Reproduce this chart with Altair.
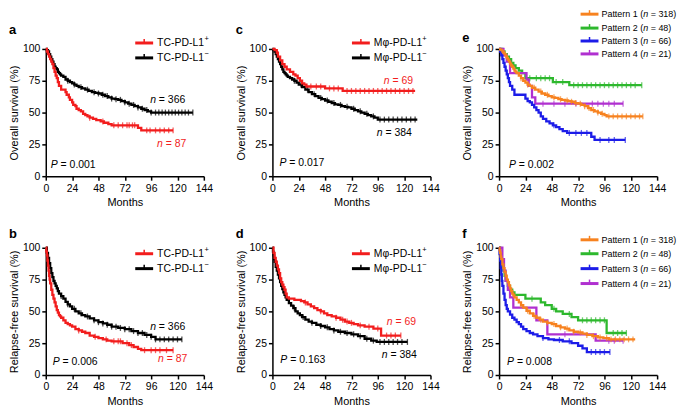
import altair as alt
import pandas as pd
import numpy as np

# ---------------- data (months, survival %) ----------------
# Panel a: overall survival, TC-PD-L1
a_pos_t = [0, 1, 2, 3, 4, 5, 6, 7, 8, 9, 10, 11, 12, 14, 18, 19, 21, 22, 24, 25, 27, 28, 30, 32, 34, 36, 38, 40, 43, 46, 50, 53, 57, 60, 84, 87]
a_pos_s = [100, 98, 96, 94, 92, 90, 88, 85, 82, 79, 77, 74, 71, 68, 66, 64, 62, 60, 58, 56, 55, 53, 52, 51, 49, 48, 47, 46, 45, 44, 43, 42, 41, 40, 38, 36]
a_pos_end = 116
a_pos_c = [40, 52, 62, 66, 70, 74, 76, 79, 81, 92, 95, 100, 104, 108, 112, 116]
a_neg_t = [0, 1, 2, 3, 4, 5, 6, 7, 8, 9, 10, 11, 12, 13, 14, 16, 18, 20, 22, 24, 26, 28, 30, 33, 36, 39, 42, 45, 48, 51, 54, 57, 60, 63, 66, 69, 72, 75, 78, 81, 84, 87, 90, 93, 96]
a_neg_s = [100, 99, 98, 96, 94, 92, 90, 88, 86, 85, 84, 82, 81, 80, 79, 78, 76, 75, 74, 73, 72, 71, 70, 69, 68, 67, 66, 65.5, 65, 64, 63, 62, 61, 60.5, 60, 59, 58, 57, 56, 55, 54, 53, 52, 51, 50]
a_neg_end = 134
a_neg_c = [20, 26, 32, 38, 44, 48, 52, 56, 60, 64, 68, 72, 76, 80, 84, 88, 92, 96, 100, 103, 106, 109, 112, 115, 118, 121, 124, 127, 130, 134]

# Panel b: relapse-free survival, TC-PD-L1
b_pos_t = [0, 0.5, 1, 1.5, 2, 2.5, 3, 3.5, 4, 5, 6, 7, 8, 9, 10, 11, 12, 13, 14, 16, 18, 20, 22, 24, 27, 30, 33, 36, 40, 44, 48, 52, 56, 60, 70, 76, 80, 84, 87]
b_pos_s = [100, 97, 94, 90, 86, 82, 78, 75, 72, 67, 63, 60, 57, 54, 51, 49, 47, 46, 45, 43, 41, 40, 39, 38, 36, 35, 34, 33, 31, 30, 29, 28, 27, 26.5, 25, 23.5, 22, 20.5, 19.5]
b_pos_end = 116
b_pos_c = [30, 45, 55, 62, 66, 68, 74, 78, 90, 96, 100, 104, 110, 116]
b_neg_t = [0, 1, 2, 3, 4, 5, 6, 7, 8, 9, 10, 11, 12, 14, 16, 18, 20, 22, 24, 27, 30, 33, 36, 40, 44, 48, 52, 56, 60, 66, 72, 78, 84, 90, 96, 100]
b_neg_s = [100, 96, 92, 88, 84, 80, 77, 74, 72, 70, 68, 66, 64, 62, 60, 57.5, 55.5, 54, 52, 50, 48.5, 47, 46, 44.5, 43, 41.5, 40.5, 39.5, 38, 37, 36, 34.5, 33, 31.5, 30, 28]
b_neg_end = 124
b_neg_c = [14, 20, 26, 32, 38, 44, 48, 52, 56, 60, 64, 68, 72, 76, 80, 84, 88, 92, 96, 100, 104, 108, 112, 116, 120, 124]

# Panel c: overall survival, Mphi-PD-L1
c_pos_t = [0, 2, 4, 5, 7, 9, 11, 13, 16, 19, 21, 23, 25, 27, 29, 31, 48, 64]
c_pos_s = [100, 99, 97, 94, 91, 88, 86, 84, 82, 80, 79, 77, 75, 73, 72, 70.5, 69, 67]
c_pos_end = 130
c_pos_c = [35, 40, 44, 52, 56, 60, 68, 72, 76, 80, 84, 88, 92, 96, 100, 104, 108, 112, 116, 120, 124, 128]
c_neg_t = [0, 1, 2, 3, 4, 5, 6, 7, 8, 9, 10, 11, 12, 13, 14, 16, 18, 20, 22, 24, 27, 30, 33, 36, 39, 42, 45, 48, 51, 54, 57, 60, 63, 66, 69, 72, 75, 78, 81, 84, 87, 90, 93, 96]
c_neg_s = [100, 99, 98, 96, 94, 92, 90, 88, 86, 84, 82, 81, 80, 79, 78, 77, 76, 75, 73.5, 72, 70, 68, 66, 64.5, 63, 61.5, 60.5, 59.5, 58.5, 57.5, 56.5, 56, 55, 54.5, 54, 53, 52, 51, 50, 49, 48, 47, 46, 44.5]
c_neg_end = 132
c_neg_c = [20, 26, 32, 38, 44, 50, 56, 62, 68, 74, 80, 86, 92, 98, 102, 106, 110, 114, 118, 122, 126, 130]

# Panel d: relapse-free survival, Mphi-PD-L1
d_pos_t = [0, 1, 2, 3, 4, 5, 6, 7, 8, 9, 10, 11, 12, 13, 15, 20, 26, 29, 32, 35, 38, 41, 44, 47, 50, 54, 58, 62, 66, 70, 74, 78, 84, 92, 99]
d_pos_s = [100, 96, 92, 89, 86, 83, 80, 76, 73, 71, 69, 67, 64, 61, 60, 59, 58, 57, 55.5, 54, 52.5, 51, 50, 48.5, 47, 46, 45, 43.5, 42, 41, 40, 39, 38, 36.5, 31]
d_pos_end = 117
d_pos_c = [30, 44, 58, 64, 68, 72, 80, 88, 96, 104, 108, 112, 117]
d_neg_t = [0, 0.5, 1, 1.5, 2, 3, 4, 5, 6, 7, 8, 9, 10, 11, 12, 13, 15, 17, 19, 21, 23, 25, 27, 30, 33, 36, 40, 44, 48, 52, 56, 60, 66, 72, 78, 84, 90, 95]
d_neg_s = [100, 97, 94, 91, 89, 85, 82, 79, 76, 73, 70, 67.5, 65, 63, 61, 59, 56.5, 54.5, 52.5, 50, 48.5, 47, 45.5, 43.5, 42, 41, 39.5, 38.5, 37.5, 36, 35, 34, 33, 32, 30.5, 28.5, 27, 26]
d_neg_end = 123
d_neg_c = [20, 28, 36, 44, 50, 56, 62, 68, 74, 80, 86, 92, 98, 102, 106, 110, 114, 118, 123]

# Panel e: overall survival by pattern
e_p1_t = [0, 1, 2, 3, 4, 5, 6, 7, 8, 9, 10, 11, 12, 13, 14, 15, 16, 18, 20, 22, 24, 26, 28, 30, 33, 36, 39, 42, 45, 48, 51, 54, 57, 60, 63, 66, 69, 72, 75, 78, 81, 84, 87, 90, 93, 96, 98]
e_p1_s = [100, 99.5, 99, 98, 97, 96, 94.5, 93, 91.5, 90, 88.5, 87, 86, 84.5, 83, 82, 81, 79, 77, 75, 73.5, 72, 71, 69.5, 68, 66.5, 65, 64, 63, 62, 61.5, 60.5, 60, 59.5, 59, 58.5, 57.5, 57, 56, 55, 53.5, 52, 51, 50, 49, 48, 47]
e_p1_end = 131
e_p1_c = [20, 26, 32, 38, 44, 50, 56, 62, 66, 70, 74, 78, 82, 86, 90, 94, 100, 104, 108, 112, 116, 120, 124, 128, 131]
e_p2_t = [0, 3, 5, 7, 9, 11, 13, 15, 18, 21, 24, 49, 64]
e_p2_s = [100, 98, 96, 94, 92, 89, 87, 85, 83, 81, 77, 74, 71.5]
e_p2_end = 130
e_p2_c = [28, 34, 38, 42, 46, 52, 58, 68, 72, 76, 80, 84, 88, 92, 96, 100, 104, 108, 112, 116, 120, 124, 130]
e_p3_t = [0, 1, 2, 3, 4, 5, 6, 7, 8, 9, 10, 12, 14, 24, 26, 28, 30, 32, 34, 36, 38, 40, 43, 46, 49, 52, 55, 58, 62, 84, 87]
e_p3_s = [100, 98, 95, 92, 89, 86, 83, 80, 77, 74, 71, 68, 64, 61, 59, 58, 56, 54, 52, 50, 47, 45, 43, 41.5, 40, 38.5, 37, 35.5, 34, 31, 28.5]
e_p3_end = 115
e_p3_c = [50, 64, 70, 75, 80, 92, 100, 105, 115]
e_p4_t = [0, 4, 7, 10, 25, 27, 30, 33]
e_p4_s = [100, 95, 90, 81, 76, 71, 62, 57]
e_p4_end = 113
e_p4_c = [40, 50, 60, 70, 85, 90, 95, 100, 105, 113]

# Panel f: relapse-free survival by pattern
f_p1_t = [0, 0.5, 1, 1.5, 2, 3, 4, 5, 6, 7, 8, 9, 10, 11, 12, 13, 14, 16, 18, 20, 22, 25, 28, 31, 34, 37, 40, 44, 48, 52, 56, 60, 64, 68, 72, 76, 80, 85, 90, 95, 100]
f_p1_s = [100, 98, 96, 93, 91, 87, 84, 81, 78, 75, 73, 70.5, 68, 66, 64, 62.5, 61, 59, 57, 55, 53, 50.5, 48.5, 46.5, 45, 43.5, 42, 41, 40, 38.5, 37.5, 36.5, 35, 34, 33.5, 32.5, 31.5, 30.5, 29.5, 29, 28]
f_p1_end = 124
f_p1_c = [20, 26, 32, 38, 44, 50, 56, 62, 68, 74, 80, 86, 92, 98, 102, 106, 110, 114, 118, 122]
f_p2_t = [0, 1, 2, 3, 4, 5, 6, 8, 10, 12, 14, 24, 38, 42, 48, 52, 58, 66, 72, 98]
f_p2_s = [100, 94, 90, 86, 82, 78, 74, 70, 67, 65, 63, 60, 57, 55, 52, 50, 48, 45.5, 43, 33]
f_p2_end = 116
f_p2_c = [30, 50, 64, 76, 80, 84, 88, 92, 96, 104, 108, 112, 116]
f_p3_t = [0, 0.5, 1, 1.5, 2, 2.5, 3, 4, 5, 6, 7, 8, 10, 12, 14, 16, 18, 20, 22, 25, 28, 31, 35, 40, 45, 50, 58, 66, 72, 76, 80]
f_p3_s = [100, 95, 90, 84, 79, 74, 70, 64, 59, 55, 52, 50, 47.5, 45, 43.5, 41.5, 40, 38, 36, 34.5, 33, 32, 30.5, 29, 28, 27.5, 26.5, 25, 23, 21, 18]
f_p3_end = 101
f_p3_c = [40, 55, 64, 84, 88, 92, 96, 101]
f_p4_t = [0, 3, 4.5, 6, 8, 10, 13, 34, 44, 88]
f_p4_s = [100, 91, 82, 74, 67, 61, 53, 43, 32, 27]
f_p4_end = 113
f_p4_c = [60, 100, 105, 113]

x_ticks = [0, 24, 48, 72, 96, 120, 144]
y_ticks = [0, 25, 50, 75, 100]

# ---------------- styling ----------------
FONT = "Liberation Sans, Arial, Helvetica, sans-serif"
RED = "#f21d1d"
BLACK = "#000000"
ORANGE = "#f7821f"
GREEN = "#2db82d"
BLUE = "#1c1ce8"
PURPLE = "#b030d0"
W, H = 159, 128
FS = 10.5

AW = {' ': .278, '(': .333, ')': .333, '=': .584, '.': .278, 'P': .667, 'a': .556,
      't': .278, 'e': .556, 'r': .333, 'n': .556, 'T': .611, 'C': .722, '-': .333,
      'D': .722, 'L': .556, 'M': .833, '\u03c6': .60}


def tw(s, fs):
    return sum(AW.get(ch, .556) for ch in s) * fs


def enc_x():
    return alt.X("t:Q", scale=alt.Scale(domain=[0, 144], nice=False, zero=False),
                 axis=alt.Axis(values=x_ticks, title="Months", labelFlush=False,
                               labelPadding=3, titlePadding=3))


def enc_y(title):
    return alt.Y("s:Q", scale=alt.Scale(domain=[0, 100], nice=False),
                 axis=alt.Axis(values=y_ticks, title=title, labelFlush=False,
                               labelPadding=2, titlePadding=3))


def curve_layers(t, s, end, ct, color, ytitle):
    d = pd.DataFrame({"t": list(t) + [end], "s": list(s) + [s[-1]]})
    ta = np.asarray(t, dtype=float)
    sa = np.asarray(s, dtype=float)
    idx = np.searchsorted(ta, np.asarray(ct, dtype=float), side="right") - 1
    c = pd.DataFrame({"t": ct, "s": sa[idx]})
    line = alt.Chart(d).mark_line(interpolate="step-after", color=color, strokeWidth=2.3).encode(
        x=enc_x(), y=enc_y(ytitle))
    ticks = alt.Chart(c).mark_tick(orient="vertical", color=color, size=6, thickness=1.3).encode(
        x=enc_x(), y=enc_y(ytitle))
    return [line, ticks]


def one(txt):
    return pd.DataFrame({"label": [txt]})


def text_run(x, y, color, parts, fs=FS, weight="normal"):
    out = []
    cx = x
    for txt, italic in parts:
        out.append(alt.Chart(one(txt)).mark_text(
            align="left", baseline="middle", fontSize=fs, font=FONT, color=color,
            fontStyle="italic" if italic else "normal", fontWeight=weight).encode(
            x=alt.value(cx), y=alt.value(y), text="label:N"))
        cx += tw(txt, fs) + (tw(" ", fs) if not txt.endswith("(") else 0)
    return out


def sup_label(x, y, main, sup, fs=FS):
    a = alt.Chart(one(main)).mark_text(align="left", baseline="middle", fontSize=fs,
                                       font=FONT, color=BLACK).encode(
        x=alt.value(x), y=alt.value(y), text="label:N")
    b = alt.Chart(one(sup)).mark_text(align="left", baseline="middle", fontSize=7.5,
                                      font=FONT, color=BLACK).encode(
        x=alt.value(x + tw(main, fs) + 0.5), y=alt.value(y - 4), text="label:N")
    return [a, b]


def legend_sym(x, y, color):
    d = one("")
    r1 = alt.Chart(d).mark_rule(color=color, strokeWidth=3).encode(
        x=alt.value(x), x2=alt.value(x + 18), y=alt.value(y))
    r2 = alt.Chart(d).mark_rule(color=color, strokeWidth=1.5).encode(
        x=alt.value(x + 9), y=alt.value(y - 4), y2=alt.value(y))
    return [r1, r2]


def legend_row(x, y, color, parts, fs):
    return legend_sym(x, y, color) + text_run(x + 21, y, BLACK, parts, fs)


def legend_sup(x, y, color, main, sup):
    return legend_sym(x, y, color) + sup_label(x + 22, y, main, sup)


def letter(ch, y):
    return alt.Chart(one(ch)).mark_text(align="left", baseline="alphabetic", fontSize=13,
                                        fontWeight="bold", font=FONT, color=BLACK).encode(
        x=alt.value(-37), y=alt.value(y), text="label:N")


def panel(curves, ytitle, lay_extra):
    layers = []
    for cv in curves:
        layers += curve_layers(*cv, ytitle)
    layers += lay_extra
    return alt.layer(*layers).properties(width=W, height=H)


OS = "Overall survival (%)"
RFS = "Relapse-free survival (%)"
PLUS = "+"
MINUS = "\u2212"

pa = panel([(a_neg_t, a_neg_s, a_neg_end, a_neg_c, BLACK),
            (a_pos_t, a_pos_s, a_pos_end, a_pos_c, RED)], OS,
           [letter("a", -15)]
           + legend_sup(90, -6, RED, "TC-PD-L1", PLUS)
           + legend_sup(90, 9, BLACK, "TC-PD-L1", MINUS)
           + text_run(105, 51, BLACK, [("n", True), ("= 366", False)])
           + text_run(112, 96, RED, [("n", True), ("= 87", False)])
           + text_run(5, 117, BLACK, [("P", True), ("= 0.001", False)]))

pc = panel([(c_neg_t, c_neg_s, c_neg_end, c_neg_c, BLACK),
            (c_pos_t, c_pos_s, c_pos_end, c_pos_c, RED)], OS,
           [letter("c", -15)]
           + legend_sup(80, -6, RED, "M\u03c6-PD-L1", PLUS)
           + legend_sup(80, 9, BLACK, "M\u03c6-PD-L1", MINUS)
           + text_run(112, 32, RED, [("n", True), ("= 69", False)])
           + text_run(105, 85, BLACK, [("n", True), ("= 384", False)])
           + text_run(7, 115, BLACK, [("P", True), ("= 0.017", False)]))

LFS = 9
pe = panel([(e_p2_t, e_p2_s, e_p2_end, e_p2_c, GREEN),
            (e_p4_t, e_p4_s, e_p4_end, e_p4_c, PURPLE),
            (e_p3_t, e_p3_s, e_p3_end, e_p3_c, BLUE),
            (e_p1_t, e_p1_s, e_p1_end, e_p1_c, ORANGE)], OS,
           [letter("e", -7)]
           + legend_row(82, -35, ORANGE, [("Pattern 1 (", False), ("n", True), ("= 318)", False)], LFS)
           + legend_row(82, -21, GREEN, [("Pattern 2 (", False), ("n", True), ("= 48)", False)], LFS)
           + legend_row(82, -8, BLUE, [("Pattern 3 (", False), ("n", True), ("= 66)", False)], LFS)
           + legend_row(82, 5, PURPLE, [("Pattern 4 (", False), ("n", True), ("= 21)", False)], LFS)
           + text_run(10, 117, BLACK, [("P", True), ("= 0.002", False)]))

pb = panel([(b_neg_t, b_neg_s, b_neg_end, b_neg_c, BLACK),
            (b_pos_t, b_pos_s, b_pos_end, b_pos_c, RED)], RFS,
           [letter("b", -10)]
           + legend_sup(90, 6, RED, "TC-PD-L1", PLUS)
           + legend_sup(90, 21, BLACK, "TC-PD-L1", MINUS)
           + text_run(105, 80, BLACK, [("n", True), ("= 366", False)])
           + text_run(113, 112, RED, [("n", True), ("= 87", False)])
           + text_run(7, 115, BLACK, [("P", True), ("= 0.006", False)]))

pdd = panel([(d_neg_t, d_neg_s, d_neg_end, d_neg_c, BLACK),
             (d_pos_t, d_pos_s, d_pos_end, d_pos_c, RED)], RFS,
            [letter("d", -10)]
            + legend_sup(80, 6, RED, "M\u03c6-PD-L1", PLUS)
            + legend_sup(80, 21, BLACK, "M\u03c6-PD-L1", MINUS)
            + text_run(115, 75, RED, [("n", True), ("= 69", False)])
            + text_run(110, 108, BLACK, [("n", True), ("= 384", False)])
            + text_run(8, 113, BLACK, [("P", True), ("= 0.163", False)]))

pf = panel([(f_p2_t, f_p2_s, f_p2_end, f_p2_c, GREEN),
            (f_p4_t, f_p4_s, f_p4_end, f_p4_c, PURPLE),
            (f_p3_t, f_p3_s, f_p3_end, f_p3_c, BLUE),
            (f_p1_t, f_p1_s, f_p1_end, f_p1_c, ORANGE)], RFS,
           [letter("f", -10)]
           + legend_row(82, -8, ORANGE, [("Pattern 1 (", False), ("n", True), ("= 318)", False)], LFS)
           + legend_row(82, 6, GREEN, [("Pattern 2 (", False), ("n", True), ("= 48)", False)], LFS)
           + legend_row(82, 21, BLUE, [("Pattern 3 (", False), ("n", True), ("= 66)", False)], LFS)
           + legend_row(82, 36, PURPLE, [("Pattern 4 (", False), ("n", True), ("= 21)", False)], LFS)
           + text_run(8, 115, BLACK, [("P", True), ("= 0.008", False)]))

chart = alt.concat(pa, pc, pe, pb, pdd, pf, columns=3,
                   spacing={"row": 72, "column": 69}, bounds="flush",
                   padding=0).configure_view(stroke=None).configure_axis(
    grid=False, domainColor=BLACK, domainWidth=1.5, tickColor=BLACK, tickWidth=1.5,
    tickSize=4, labelColor=BLACK, titleColor=BLACK, labelFont=FONT, titleFont=FONT,
    labelFontSize=10.5, titleFontSize=11, titleFontWeight="normal")

chart.save("out.html", embed_options={"renderer": "svg", "actions": False})
